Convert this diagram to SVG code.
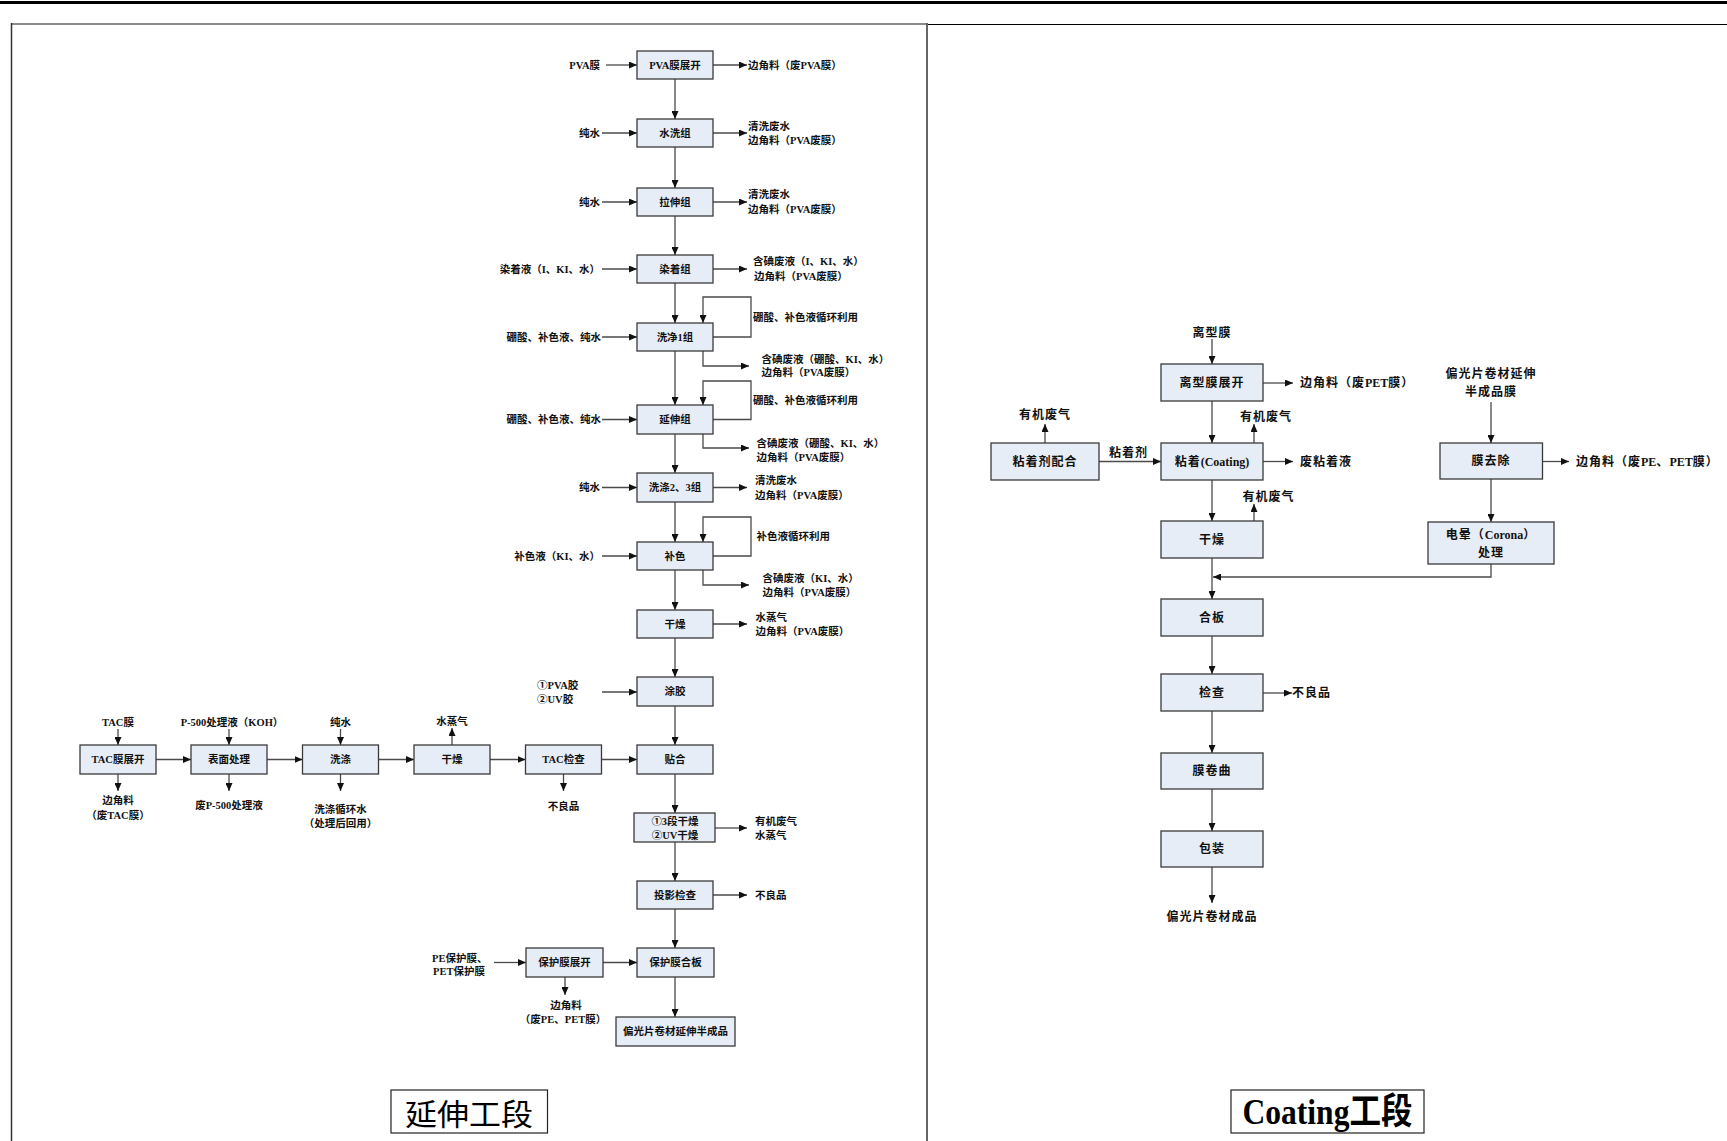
<svg xmlns="http://www.w3.org/2000/svg" width="1727" height="1141" viewBox="0 0 1727 1141">
<style>
.bx{fill:#e7edf6;stroke:#3a3a3a;stroke-width:1.3}
.t{font-family:"Liberation Serif","Noto Sans CJK SC",serif;font-weight:bold;font-size:10.5px;fill:#111;dominant-baseline:central}
.c{font-family:"Liberation Serif","Noto Sans CJK SC",serif;font-weight:bold;font-size:12px;letter-spacing:1px;fill:#111;dominant-baseline:central}
.m{text-anchor:middle}
.e{text-anchor:end}
.ln{fill:none;stroke:#4a4a4a;stroke-width:1.3}
.ar{marker-end:url(#ah)}
.ttl{fill:#fff;stroke:#222;stroke-width:1.2}
.l0{letter-spacing:0}
</style>
<defs>
<marker id="ah" markerUnits="userSpaceOnUse" markerWidth="8" markerHeight="7" refX="8" refY="3.5" orient="auto">
<path d="M0,0 L8,3.5 L0,7 z" fill="#111"/>
</marker>
</defs>
<rect x="0" y="0" width="1727" height="1141" fill="#fff"/>
<g id="frame">
<line x1="0" y1="2.5" x2="1727" y2="2.5" stroke="#000" stroke-width="3"/>
<line x1="11" y1="24" x2="927" y2="24" stroke="#8a8a8a" stroke-width="2"/>
<line x1="11.5" y1="23" x2="11.5" y2="1141" stroke="#333" stroke-width="1.5"/>
<line x1="927" y1="23" x2="927" y2="1141" stroke="#666" stroke-width="2"/>
<line x1="928" y1="24.5" x2="1727" y2="24.5" stroke="#000" stroke-width="1"/>
</g>

<g id="connectors">
<line class="ln ar" x1="675" y1="79" x2="675" y2="119"/>
<line class="ln ar" x1="675" y1="147" x2="675" y2="188"/>
<line class="ln ar" x1="675" y1="216" x2="675" y2="255"/>
<line class="ln ar" x1="675" y1="283" x2="675" y2="323"/>
<line class="ln ar" x1="675" y1="351" x2="675" y2="405"/>
<line class="ln ar" x1="675" y1="434" x2="675" y2="473"/>
<line class="ln ar" x1="675" y1="502" x2="675" y2="542"/>
<line class="ln ar" x1="675" y1="570" x2="675" y2="610"/>
<line class="ln ar" x1="675" y1="638" x2="675" y2="677"/>
<line class="ln ar" x1="675" y1="706" x2="675" y2="745"/>
<line class="ln ar" x1="675" y1="774" x2="675" y2="813"/>
<line class="ln ar" x1="675" y1="842" x2="675" y2="881"/>
<line class="ln ar" x1="675" y1="909" x2="675" y2="948"/>
<line class="ln ar" x1="675" y1="977" x2="675" y2="1017"/>
<line class="ln ar" x1="606" y1="65" x2="637" y2="65"/>
<line class="ln ar" x1="602" y1="133" x2="637" y2="133"/>
<line class="ln ar" x1="602" y1="202" x2="637" y2="202"/>
<line class="ln ar" x1="602" y1="269" x2="637" y2="269"/>
<line class="ln ar" x1="602" y1="337" x2="637" y2="337"/>
<line class="ln ar" x1="602" y1="419.5" x2="637" y2="419.5"/>
<line class="ln ar" x1="602" y1="487.5" x2="637" y2="487.5"/>
<line class="ln ar" x1="602" y1="556" x2="637" y2="556"/>
<line class="ln ar" x1="602" y1="692" x2="637" y2="692"/>
<line class="ln ar" x1="713" y1="65" x2="747" y2="65"/>
<line class="ln ar" x1="713" y1="133" x2="747" y2="133"/>
<line class="ln ar" x1="713" y1="202" x2="747" y2="202"/>
<line class="ln ar" x1="713" y1="269" x2="747" y2="269"/>
<line class="ln ar" x1="713" y1="487.5" x2="747" y2="487.5"/>
<line class="ln ar" x1="713" y1="624" x2="747" y2="624"/>
<line class="ln ar" x1="715" y1="828" x2="747" y2="828"/>
<line class="ln ar" x1="713" y1="895" x2="747" y2="895"/>
<polyline class="ln ar" points="713,337 751,337 751,297 703,297 703,323"/>
<polyline class="ln ar" points="703,351 703,366 749,366"/>
<polyline class="ln ar" points="713,419.5 751,419.5 751,381 703,381 703,405"/>
<polyline class="ln ar" points="703,434 703,448 749,448"/>
<polyline class="ln ar" points="713,556 751,556 751,517 703,517 703,542"/>
<polyline class="ln ar" points="703,570 703,585 749,585"/>
<line class="ln ar" x1="156" y1="759.5" x2="191" y2="759.5"/>
<line class="ln ar" x1="267" y1="759.5" x2="302.5" y2="759.5"/>
<line class="ln ar" x1="378.5" y1="759.5" x2="414" y2="759.5"/>
<line class="ln ar" x1="490" y1="759.5" x2="525.5" y2="759.5"/>
<line class="ln ar" x1="601.5" y1="759.5" x2="637" y2="759.5"/>
<line class="ln ar" x1="118" y1="729" x2="118" y2="745"/>
<line class="ln ar" x1="229" y1="729" x2="229" y2="745"/>
<line class="ln ar" x1="340.5" y1="729" x2="340.5" y2="745"/>
<line class="ln ar" x1="452" y1="745" x2="452" y2="728"/>
<line class="ln ar" x1="118" y1="774" x2="118" y2="791"/>
<line class="ln ar" x1="229" y1="774" x2="229" y2="791"/>
<line class="ln ar" x1="340.5" y1="774" x2="340.5" y2="791"/>
<line class="ln ar" x1="563.5" y1="774" x2="563.5" y2="791"/>
<line class="ln ar" x1="494" y1="962.5" x2="526" y2="962.5"/>
<line class="ln ar" x1="603" y1="962.5" x2="637" y2="962.5"/>
<line class="ln ar" x1="565" y1="977" x2="565" y2="995"/>
<line class="ln ar" x1="1212" y1="339" x2="1212" y2="364"/>
<line class="ln ar" x1="1212" y1="401" x2="1212" y2="443"/>
<line class="ln ar" x1="1212" y1="480" x2="1212" y2="521"/>
<line class="ln ar" x1="1212" y1="558" x2="1212" y2="599"/>
<line class="ln ar" x1="1212" y1="636" x2="1212" y2="674"/>
<line class="ln ar" x1="1212" y1="711" x2="1212" y2="753"/>
<line class="ln ar" x1="1212" y1="789" x2="1212" y2="831"/>
<line class="ln ar" x1="1212" y1="867" x2="1212" y2="903"/>
<line class="ln ar" x1="1099" y1="461.5" x2="1161" y2="461.5"/>
<line class="ln ar" x1="1045" y1="443" x2="1045" y2="424"/>
<line class="ln ar" x1="1254" y1="443" x2="1254" y2="424"/>
<line class="ln ar" x1="1254" y1="521" x2="1254" y2="504"/>
<line class="ln ar" x1="1263" y1="383" x2="1293" y2="383"/>
<line class="ln ar" x1="1263" y1="461.5" x2="1293" y2="461.5"/>
<line class="ln ar" x1="1263" y1="693" x2="1292" y2="693"/>
<line class="ln ar" x1="1491" y1="402" x2="1491" y2="443"/>
<line class="ln ar" x1="1542.5" y1="461.5" x2="1569" y2="461.5"/>
<line class="ln ar" x1="1491" y1="479" x2="1491" y2="522"/>
<polyline class="ln ar" points="1491,564 1491,577 1213,577"/>
</g>

<g id="labels">
<text class="t e" x="600" y="65">PVA膜</text>
<text class="t" x="748" y="65">边角料（废PVA膜）</text>
<text class="t e" x="600" y="133">纯水</text>
<text class="t" x="748" y="126.5">清洗废水</text>
<text class="t" x="748" y="140.5">边角料（PVA废膜）</text>
<text class="t e" x="600" y="202">纯水</text>
<text class="t" x="748" y="194.5">清洗废水</text>
<text class="t" x="748" y="209">边角料（PVA废膜）</text>
<text class="t e" x="600" y="269">染着液（I、KI、水）</text>
<text class="t" x="753" y="261">含碘废液（I、KI、水）</text>
<text class="t" x="754" y="276">边角料（PVA废膜）</text>
<text class="t e" x="601" y="337">硼酸、补色液、纯水</text>
<text class="t" x="753" y="317">硼酸、补色液循环利用</text>
<text class="t" x="761.5" y="359">含碘废液（硼酸、KI、水）</text>
<text class="t" x="761.5" y="372.5">边角料（PVA废膜）</text>
<text class="t e" x="601" y="419.5">硼酸、补色液、纯水</text>
<text class="t" x="753" y="400">硼酸、补色液循环利用</text>
<text class="t" x="756.5" y="443">含碘废液（硼酸、KI、水）</text>
<text class="t" x="756.5" y="457">边角料（PVA废膜）</text>
<text class="t e" x="600" y="487.5">纯水</text>
<text class="t" x="755" y="480.5">清洗废水</text>
<text class="t" x="755" y="495.5">边角料（PVA废膜）</text>
<text class="t" x="756.5" y="536.5">补色液循环利用</text>
<text class="t e" x="600" y="556">补色液（KI、水）</text>
<text class="t" x="762.5" y="578.5">含碘废液（KI、水）</text>
<text class="t" x="762.5" y="592">边角料（PVA废膜）</text>
<text class="t" x="755.5" y="617">水蒸气</text>
<text class="t" x="755.5" y="631">边角料（PVA废膜）</text>
<text class="t" x="537" y="685">①PVA胶</text>
<text class="t" x="537" y="699">②UV胶</text>
<text class="t" x="755" y="821">有机废气</text>
<text class="t" x="755" y="835">水蒸气</text>
<text class="t" x="755" y="895">不良品</text>
<text class="t m" x="118" y="722">TAC膜</text>
<text class="t m" x="232" y="722">P-500处理液（KOH）</text>
<text class="t m" x="340.5" y="722">纯水</text>
<text class="t m" x="452" y="721">水蒸气</text>
<text class="t m" x="118" y="800">边角料</text>
<text class="t m" x="118" y="815">（废TAC膜）</text>
<text class="t m" x="229" y="805">废P-500处理液</text>
<text class="t m" x="340.5" y="809">洗涤循环水</text>
<text class="t m" x="340.5" y="823">（处理后回用）</text>
<text class="t m" x="563.5" y="806">不良品</text>
<text class="t" x="432" y="958">PE保护膜、</text>
<text class="t" x="433" y="971">PET保护膜</text>
<text class="t m" x="566" y="1005">边角料</text>
<text class="t m" x="563" y="1019">（废PE、PET膜）</text>
<text class="c m" x="1212" y="332.5">离型膜</text>
<text class="c" x="1300" y="383">边角料（废<tspan class="l0">PET</tspan>膜）</text>
<text class="c m" x="1045" y="415">有机废气</text>
<text class="c m" x="1266" y="417">有机废气</text>
<text class="c m" x="1128.5" y="452.5">粘着剂</text>
<text class="c" x="1300" y="461.5">废粘着液</text>
<text class="c m" x="1268.5" y="497">有机废气</text>
<text class="c" x="1292" y="693">不良品</text>
<text class="c m" x="1212" y="916.5">偏光片卷材成品</text>
<text class="c m" x="1491" y="374">偏光片卷材延伸</text>
<text class="c m" x="1491" y="392">半成品膜</text>
<text class="c" x="1576" y="461.5">边角料（废<tspan class="l0">PE</tspan>、<tspan class="l0">PET</tspan>膜）</text>
</g>

<g id="n1"><rect class="bx" x="637" y="51" width="76" height="28"/><text class="t m" x="675" y="65">PVA膜展开</text></g>
<g id="n2"><rect class="bx" x="637" y="119" width="76" height="28"/><text class="t m" x="675" y="133">水洗组</text></g>
<g id="n3"><rect class="bx" x="637" y="188" width="76" height="28"/><text class="t m" x="675" y="202">拉伸组</text></g>
<g id="n4"><rect class="bx" x="637" y="255" width="76" height="28"/><text class="t m" x="675" y="269">染着组</text></g>
<g id="n5"><rect class="bx" x="637" y="323" width="76" height="28"/><text class="t m" x="675" y="337">洗净1组</text></g>
<g id="n6"><rect class="bx" x="637" y="405" width="76" height="29"/><text class="t m" x="675" y="419.5">延伸组</text></g>
<g id="n7"><rect class="bx" x="637" y="473" width="76" height="29"/><text class="t m" x="675" y="487.5">洗涤2、3组</text></g>
<g id="n8"><rect class="bx" x="637" y="542" width="76" height="28"/><text class="t m" x="675" y="556">补色</text></g>
<g id="n9"><rect class="bx" x="637" y="610" width="76" height="28"/><text class="t m" x="675" y="624">干燥</text></g>
<g id="n10"><rect class="bx" x="637" y="677" width="76" height="29"/><text class="t m" x="675" y="691.5">涂胶</text></g>
<g id="n11"><rect class="bx" x="637" y="745" width="76" height="29"/><text class="t m" x="675" y="759.5">贴合</text></g>
<g id="n12"><rect class="bx" x="634" y="813" width="81" height="29"/><text class="t m" x="675" y="821.5">①3段干燥</text><text class="t m" x="675" y="835">②UV干燥</text></g>
<g id="n13"><rect class="bx" x="637" y="881" width="76" height="28"/><text class="t m" x="675" y="895">投影检查</text></g>
<g id="n14"><rect class="bx" x="637" y="948" width="77" height="29"/><text class="t m" x="675.5" y="962.5">保护膜合板</text></g>
<g id="n15"><rect class="bx" x="616" y="1017" width="119" height="29"/><text class="t m" x="675.5" y="1031.5">偏光片卷材延伸半成品</text></g>
<g id="n16"><rect class="bx" x="526" y="948" width="77" height="29"/><text class="t m" x="564.5" y="962.5">保护膜展开</text></g>
<g id="t1"><rect class="bx" x="80" y="745" width="76" height="29"/><text class="t m" x="118" y="759.5">TAC膜展开</text></g>
<g id="t2"><rect class="bx" x="191" y="745" width="76" height="29"/><text class="t m" x="229" y="759.5">表面处理</text></g>
<g id="t3"><rect class="bx" x="302.5" y="745" width="76" height="29"/><text class="t m" x="340.5" y="759.5">洗涤</text></g>
<g id="t4"><rect class="bx" x="414" y="745" width="76" height="29"/><text class="t m" x="452" y="759.5">干燥</text></g>
<g id="t5"><rect class="bx" x="525.5" y="745" width="76" height="29"/><text class="t m" x="563.5" y="759.5">TAC检查</text></g>

<g id="c1"><rect class="bx" x="1161" y="364" width="102" height="37"/><text class="c m" x="1212" y="382.5">离型膜展开</text></g>
<g id="c2"><rect class="bx" x="1161" y="443" width="102" height="37"/><text class="c m" x="1212" y="461.5">粘着<tspan class="l0">(Coating)</tspan></text></g>
<g id="c3"><rect class="bx" x="1161" y="521" width="102" height="37"/><text class="c m" x="1212" y="539.5">干燥</text></g>
<g id="c4"><rect class="bx" x="1161" y="599" width="102" height="37"/><text class="c m" x="1212" y="617.5">合板</text></g>
<g id="c5"><rect class="bx" x="1161" y="674" width="102" height="37"/><text class="c m" x="1212" y="692.5">检查</text></g>
<g id="c6"><rect class="bx" x="1161" y="753" width="102" height="36"/><text class="c m" x="1212" y="771">膜卷曲</text></g>
<g id="c7"><rect class="bx" x="1161" y="831" width="102" height="36"/><text class="c m" x="1212" y="849">包装</text></g>
<g id="c8"><rect class="bx" x="991" y="443" width="108" height="37"/><text class="c m" x="1045" y="461.5">粘着剂配合</text></g>
<g id="c9"><rect class="bx" x="1440" y="443" width="102.5" height="36"/><text class="c m" x="1491" y="461">膜去除</text></g>
<g id="c10"><rect class="bx" x="1428" y="522" width="126" height="42"/><text class="c m" x="1491" y="535">电晕（<tspan class="l0">Corona</tspan>）</text><text class="c m" x="1491" y="553">处理</text></g>

<g id="title1"><rect class="ttl" x="391" y="1090" width="156.5" height="43"/><text x="469" y="1112" text-anchor="middle" dominant-baseline="central" font-family="Noto Sans CJK SC, sans-serif" font-size="30" textLength="128" lengthAdjust="spacingAndGlyphs" fill="#000">延伸工段</text></g>
<g id="title2"><rect class="ttl" x="1231" y="1090" width="193" height="43"/><text x="1327.5" y="1112" text-anchor="middle" dominant-baseline="central" font-family="Liberation Serif, Noto Sans CJK SC, serif" font-weight="bold" font-size="36" textLength="170" lengthAdjust="spacingAndGlyphs" fill="#000">Coating工段</text></g>
</svg>
